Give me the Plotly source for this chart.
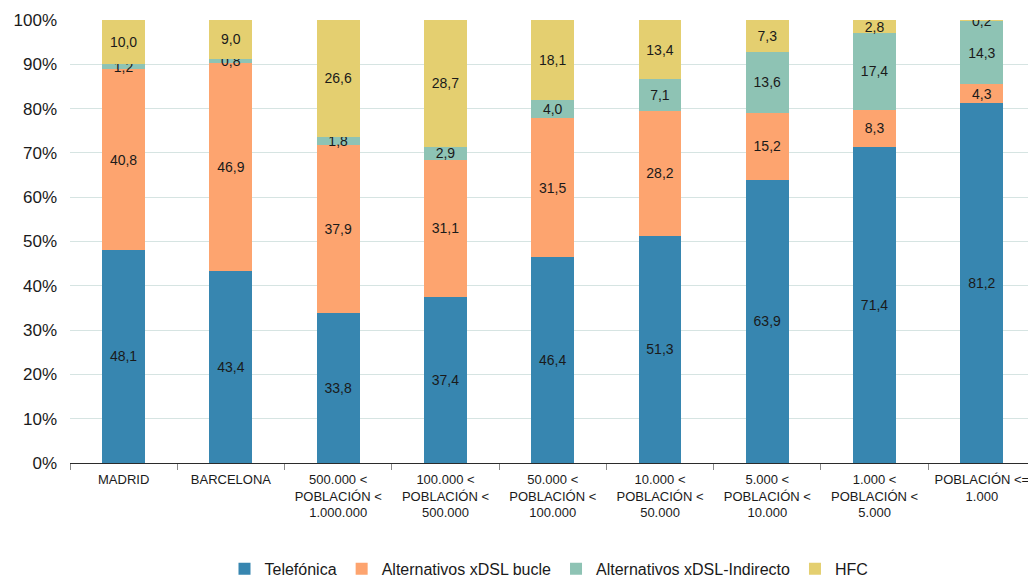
import plotly.graph_objects as go

categorias = [
    "MADRID",
    "BARCELONA",
    "500.000 &lt;<br>POBLACIÓN &lt;<br>1.000.000",
    "100.000 &lt;<br>POBLACIÓN &lt;<br>500.000",
    "50.000 &lt;<br>POBLACIÓN &lt;<br>100.000",
    "10.000 &lt;<br>POBLACIÓN &lt;<br>50.000",
    "5.000 &lt;<br>POBLACIÓN &lt;<br>10.000",
    "1.000 &lt;<br>POBLACIÓN &lt;<br>5.000",
    "POBLACIÓN &lt;=<br>1.000",
]

telefonica = [48.1, 43.4, 33.8, 37.4, 46.4, 51.3, 63.9, 71.4, 81.2]
xdsl_bucle = [40.8, 46.9, 37.9, 31.1, 31.5, 28.2, 15.2, 8.3, 4.3]
xdsl_indirecto = [1.2, 0.8, 1.8, 2.9, 4.0, 7.1, 13.6, 17.4, 14.3]
hfc = [10.0, 9.0, 26.6, 28.7, 18.1, 13.4, 7.3, 2.8, 0.2]

series = [
    ("Telefónica", telefonica, "#3786b0"),
    ("Alternativos xDSL bucle", xdsl_bucle, "#fda46f"),
    ("Alternativos xDSL-Indirecto", xdsl_indirecto, "#8ec3b4"),
    ("HFC", hfc, "#e4cf70"),
]

FUENTE = "Liberation Sans, Arial, sans-serif"

fig = go.Figure()
for nombre, valores, color in series:
    fig.add_trace(go.Bar(
        name=nombre,
        x=categorias,
        y=valores,
        marker=dict(color=color, line=dict(width=0)),
        width=0.4,
        texttemplate="%{y:.1f}",
        textposition="inside",
        insidetextanchor="middle",
        textangle=0,
        constraintext="none",
        textfont=dict(family=FUENTE, size=14, color="#1a1a1a"),
    ))

fig.update_layout(
    barmode="stack",
    separators=", ",
    width=1028,
    height=578,
    margin=dict(l=70, r=0, t=20, b=115, autoexpand=False),
    paper_bgcolor="white",
    plot_bgcolor="white",
    font=dict(family=FUENTE, color="#1a1a1a"),
    showlegend=True,
    legend=dict(
        orientation="h",
        x=0.5, xanchor="center",
        y=-0.239, yanchor="middle",
        font=dict(family=FUENTE, size=16, color="#1a1a1a"),
        traceorder="normal",
        itemwidth=30,
    ),
    xaxis=dict(
        range=[-0.5, 8.43],
        automargin=False,
        showline=True,
        linecolor="#2b2b2b",
        linewidth=1,
        ticks="outside",
        tickson="boundaries",
        ticklen=6,
        tickcolor="#8a8a8a",
        tickfont=dict(family=FUENTE, size=13),
        ticklabelstandoff=4,
        showgrid=False,
    ),
    yaxis=dict(
        range=[0, 100],
        dtick=10,
        ticksuffix="%",
        automargin=False,
        showgrid=True,
        gridcolor="#d6e4e2",
        gridwidth=1,
        zeroline=False,
        tickfont=dict(family=FUENTE, size=17),
        ticks="",
        ticklabelstandoff=12,
    ),
)

fig.write_html("out.html")
